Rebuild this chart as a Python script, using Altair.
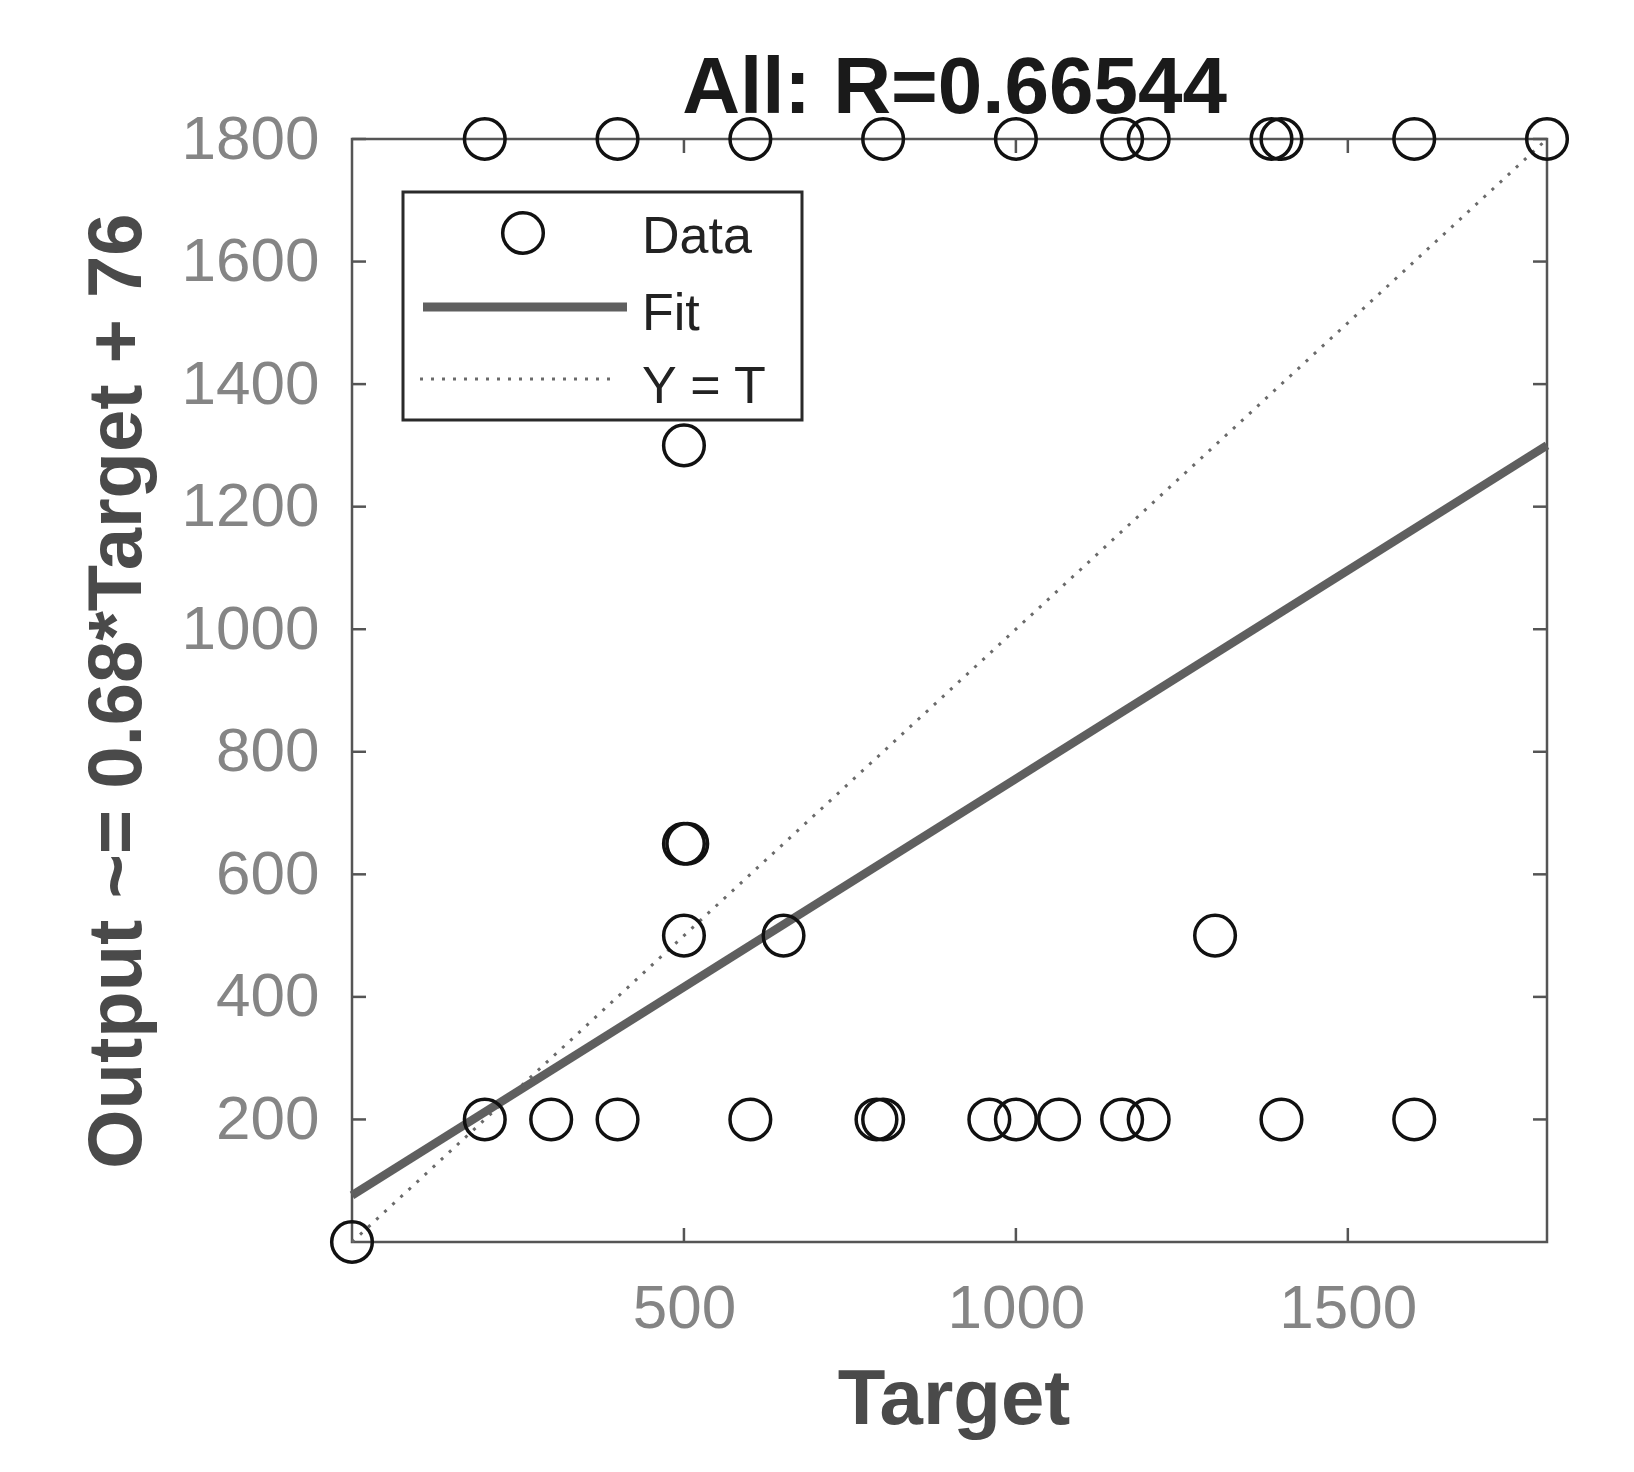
import altair as alt
import pandas as pd

# ---- data ----
target = [0,
          200, 400, 600, 800, 1000, 1160, 1200, 1385, 1400, 1600, 1800,
          200, 300, 400, 600, 790, 800, 960, 1000, 1065, 1160, 1200, 1400, 1600,
          500, 500, 505, 500, 650, 1300]
output = [0,
          1800, 1800, 1800, 1800, 1800, 1800, 1800, 1800, 1800, 1800, 1800,
          200, 200, 200, 200, 200, 200, 200, 200, 200, 200, 200, 200, 200,
          1300, 650, 650, 500, 500, 500]

fit_t = [0, 1800]
fit_y = [76, 1300]
ident_t = [0, 1800]
ident_y = [0, 1800]

x_ticks = [500, 1000, 1500]
y_ticks = [200, 400, 600, 800, 1000, 1200, 1400, 1600, 1800]
legend_labels = ["Data", "Fit", "Y = T"]

title_text = "All: R=0.66544"
x_title = "Target"
y_title = "Output ~= 0.68*Target + 76"

W, H = 1195, 1103
FONT = "Liberation Sans"
TICK = 14
MSIZE = 1650

pts = pd.DataFrame({"t": target, "o": output})
fit = pd.DataFrame({"t": fit_t, "o": fit_y})
ident = pd.DataFrame({"t": ident_t, "o": ident_y})
xt = pd.DataFrame({"v": x_ticks})
yt = pd.DataFrame({"v": y_ticks})

xscale = alt.Scale(domain=[0, 1800], nice=False, zero=False)
yscale = alt.Scale(domain=[0, 1800], nice=False, zero=False)

xaxis = alt.Axis(values=x_ticks, format="d", title=x_title, grid=False, ticks=False,
                 domain=False,
                 labelFont=FONT, labelFontSize=62, labelColor="#858585",
                 labelPadding=36, labelBaseline="top",
                 titleFont=FONT, titleFontSize=78, titleFontWeight="bold",
                 titleColor="#4a4a4a", titleBaseline="alphabetic",
                 titleX=W / 2 + 4, titleY=181, titleAlign="center")
yaxis = alt.Axis(values=y_ticks, format="d", title=y_title, grid=False, ticks=False,
                 domain=False,
                 labelFont=FONT, labelFontSize=62, labelColor="#858585",
                 labelPadding=33,
                 titleFont=FONT, titleFontSize=76, titleFontWeight="bold",
                 titleColor="#4a4a4a", titleBaseline="alphabetic", titleAngle=270,
                 titleX=-212, titleY=H / 2, titleAlign="center")

X = alt.X("t:Q", scale=xscale, axis=xaxis)
Y = alt.Y("o:Q", scale=yscale, axis=yaxis)

ident_line = alt.Chart(ident).mark_line(color="#6a6a6a", strokeWidth=3,
                                        strokeDash=[3, 8]).encode(x=X, y=Y)
fit_line = alt.Chart(fit).mark_line(color="#5f5f5f", strokeWidth=8.5).encode(x=X, y=Y)
points = alt.Chart(pts).mark_point(shape="circle", filled=False, size=MSIZE,
                                   color="#111111", strokeWidth=3.5,
                                   opacity=1).encode(x=X, y=Y)

tick_style = dict(color="#555555", strokeWidth=2.5)
left_ticks = alt.Chart(yt).mark_rule(**tick_style).encode(
    y=alt.Y("v:Q", scale=yscale), x=alt.value(0), x2=alt.value(TICK))
right_ticks = alt.Chart(yt).mark_rule(**tick_style).encode(
    y=alt.Y("v:Q", scale=yscale), x=alt.value(W - TICK), x2=alt.value(W))
bottom_ticks = alt.Chart(xt).mark_rule(**tick_style).encode(
    x=alt.X("v:Q", scale=xscale), y=alt.value(H - TICK), y2=alt.value(H))
top_ticks = alt.Chart(xt).mark_rule(**tick_style).encode(
    x=alt.X("v:Q", scale=xscale), y=alt.value(0), y2=alt.value(TICK))

# ---- title as a text mark above the plot ----
title_mark = alt.Chart(pd.DataFrame({"label": [title_text]})).mark_text(
    align="center", baseline="alphabetic", font=FONT, fontSize=80, fontWeight="bold",
    color="#1a1a1a").encode(text="label:N", x=alt.value(W / 2 + 5), y=alt.value(-26))

# ---- legend box (drawn by hand, like MATLAB's) ----
one = pd.DataFrame({"label": legend_labels})
leg_box = alt.Chart(one.head(1)).mark_rect(fill="white", stroke="#2a2a2a",
                                           strokeWidth=3).encode(
    x=alt.value(51), x2=alt.value(450), y=alt.value(53), y2=alt.value(281))
leg_circle = alt.Chart(one.head(1)).mark_point(shape="circle", filled=False, size=MSIZE,
                                               color="#111111", strokeWidth=3.5,
                                               opacity=1).encode(
    x=alt.value(171), y=alt.value(94))
leg_fit = alt.Chart(one.head(1)).mark_rule(color="#5f5f5f", strokeWidth=9).encode(
    x=alt.value(71), x2=alt.value(275), y=alt.value(168))
leg_ident = alt.Chart(one.head(1)).mark_rule(color="#6a6a6a", strokeWidth=3,
                                             strokeDash=[3, 8]).encode(
    x=alt.value(68), x2=alt.value(262), y=alt.value(240))
leg_texts = []
for lab, yb in zip(legend_labels, [114, 191, 264]):
    leg_texts.append(
        alt.Chart(pd.DataFrame({"label": [lab]})).mark_text(
            align="left", baseline="alphabetic", font=FONT, fontSize=52,
            color="#222222").encode(text="label:N", x=alt.value(290), y=alt.value(yb)))

chart = alt.layer(
    ident_line, fit_line, points,
    left_ticks, right_ticks, bottom_ticks, top_ticks,
    leg_box, leg_circle, leg_fit, leg_ident, *leg_texts, title_mark
).properties(
    width=W, height=H,
    autosize=alt.AutoSizeParams(type="none"),
    padding={"left": 344, "top": 131, "right": 60, "bottom": 200},
).configure(
    background="white",
    view=alt.ViewConfig(stroke="#555555", strokeWidth=2.5),
)

chart.save("out.html", embed_options={"renderer": "svg", "actions": False})
